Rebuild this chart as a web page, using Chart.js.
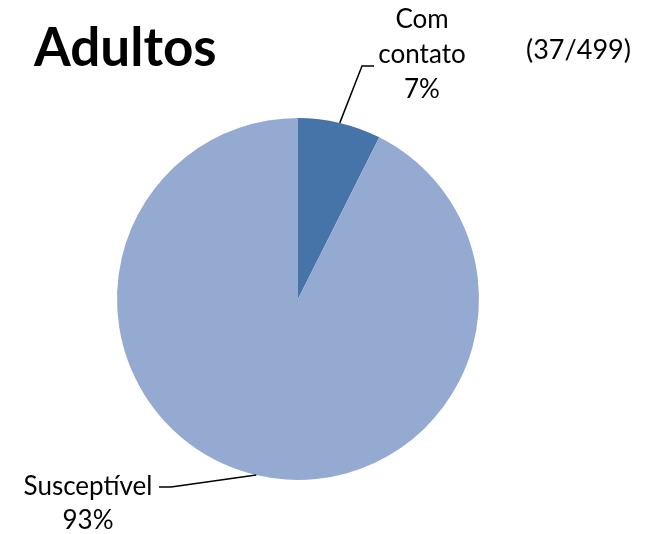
<!DOCTYPE html>
<html lang="pt-BR">
<head>
  <meta charset="UTF-8" />
  <title>Adultos</title>
  <script src="https://cdn.jsdelivr.net/npm/chart.js"></script>
  <style>
    html, body { margin: 0; padding: 0; background: #fff; }
    #wrap { width: 654px; height: 534px; position: relative; }
  </style>
</head>
<body>
  <div id="wrap"><canvas id="grafico"></canvas></div>

  <script>
    // Dados
    const categorias = ['Com contato', 'Susceptível'];
    const valores = [37, 462];
    const cores = ['#4674A8', '#95AAD1'];
    const titulo = 'Adultos';
    const subtitulo = '(37/499)';

    const fonte = 'Lato, "Open Sans", sans-serif';

    // Rótulos com linhas de chamada
    const rotulosPlugin = {
      id: 'rotulos',
      afterDraw(chart) {
        const ctx = chart.ctx;
        const meta = chart.getDatasetMeta(0);
        const total = valores.reduce((a, b) => a + b, 0);

        ctx.save();
        ctx.fillStyle = '#000';

        // título
        ctx.font = 'bold 53px ' + fonte;
        ctx.textAlign = 'left';
        ctx.textBaseline = 'alphabetic';
        ctx.fillText(titulo, 34, 66);

        ctx.font = '27px ' + fonte;
        ctx.textBaseline = 'middle';
        ctx.fillText(subtitulo, 526, 50);

        const pontoNoArco = (arc) => {
          const p = arc.getProps(['x', 'y', 'startAngle', 'endAngle', 'outerRadius'], true);
          const a = (p.startAngle + p.endAngle) / 2;
          return { x: p.x + Math.cos(a) * p.outerRadius, y: p.y + Math.sin(a) * p.outerRadius };
        };

        ctx.strokeStyle = '#000';
        ctx.lineWidth = 1.5;

        // Com contato
        let p = pontoNoArco(meta.data[0]);
        ctx.beginPath();
        ctx.moveTo(p.x, p.y);
        ctx.lineTo(362, 66);
        ctx.lineTo(374, 66);
        ctx.stroke();
        ctx.textAlign = 'center';
        ctx.font = '26px ' + fonte;
        ctx.fillText('Com', 422, 20);
        ctx.fillText('contato', 422, 55);
        ctx.fillText(Math.round(valores[0] / total * 100) + '%', 422, 90);

        // Susceptível
        p = pontoNoArco(meta.data[1]);
        ctx.beginPath();
        ctx.moveTo(p.x, p.y);
        ctx.lineTo(171, 487);
        ctx.lineTo(159, 487);
        ctx.stroke();
        ctx.fillText(categorias[1], 88, 487);
        ctx.fillText(Math.round(valores[1] / total * 100) + '%', 88, 521);

        ctx.restore();
      }
    };

    new Chart(document.getElementById('grafico'), {
      type: 'pie',
      data: {
        labels: categorias,
        datasets: [{
          data: valores,
          backgroundColor: cores,
          borderWidth: 0
        }]
      },
      options: {
        responsive: true,
        maintainAspectRatio: false,
        animation: false,
        layout: { padding: { left: 117, right: 175, top: 118, bottom: 54 } },
        plugins: {
          legend: { display: false },
          tooltip: { enabled: false }
        }
      },
      plugins: [rotulosPlugin]
    });
  </script>
</body>
</html>
